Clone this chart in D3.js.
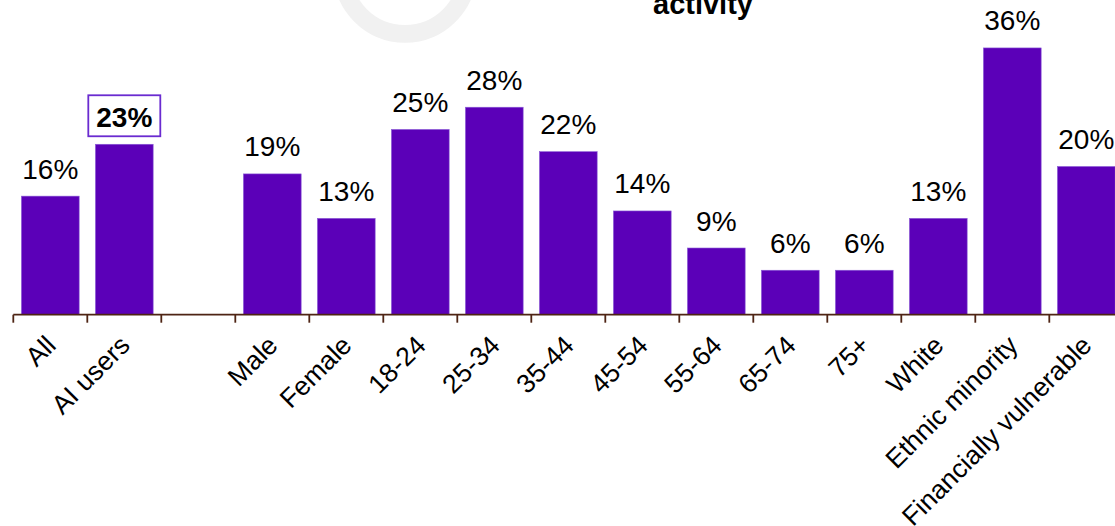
<!DOCTYPE html>
<html>
<head>
<meta charset="utf-8">
<script src="https://cdn.jsdelivr.net/npm/d3@7"></script>
<style>
  html, body { margin: 0; padding: 0; background: #ffffff; }
  svg { display: block; }
  text { font-family: "Liberation Sans", Arial, sans-serif; }
</style>
</head>
<body>
<svg id="chart" width="1115" height="526"></svg>
<script>
// Share of each group taking part in the activity (%)
const categories = ["All", "AI users", "", "Male", "Female", "18-24", "25-34", "35-44",
  "45-54", "55-64", "65-74", "75+", "White", "Ethnic minority", "Financially vulnerable"];
const values = [16, 23, null, 19, 13, 25, 28, 22, 14, 9, 6, 6, 13, 36, 20];
const highlighted = ["AI users"];
const titleText = "activity";

const W = 1115, H = 526;
const svg = d3.select("#chart");

const baseY = 314.7;
const x = d3.scaleBand()
  .domain(categories.map((c, i) => i))
  .range([13.3, 13.3 + 74 * categories.length])
  .paddingInner(0.22)
  .paddingOuter(0.11);
const y = d3.scaleLinear().domain([0, 40]).range([baseY, baseY - 296.4]);

const purple = "#5b00b8";

// decorative ring near the top
svg.append("circle")
  .attr("cx", 405).attr("cy", -29).attr("r", 62.8)
  .attr("fill", "none").attr("stroke", "#f1f1f1").attr("stroke-width", 17.7);

// title (second line)
svg.append("text")
  .attr("x", 703).attr("y", 13.5)
  .attr("text-anchor", "middle")
  .attr("font-size", 29).attr("font-weight", "bold").attr("fill", "#000")
  .text(titleText);

const data = categories.map((c, i) => ({ c, i, v: values[i] }));
const withVal = data.filter(d => d.v != null);

// bars
svg.append("g").selectAll("rect").data(withVal).join("rect")
  .attr("x", d => x(d.i))
  .attr("width", x.bandwidth())
  .attr("y", d => y(d.v))
  .attr("height", d => y(0) - y(d.v))
  .attr("fill", purple)
  .attr("stroke", "#8a5ad6")
  .attr("stroke-width", 0.6);

// value labels
const labels = svg.append("g");
withVal.forEach(d => {
  const cx = x(d.i) + x.bandwidth() / 2;
  const by = y(d.v) - 17.5;
  if (highlighted.includes(d.c)) {
    const step = x.step();
    labels.append("rect")
      .attr("x", cx - step / 2 + 1).attr("y", by - 31.5)
      .attr("width", step - 2).attr("height", 41)
      .attr("fill", "#fff").attr("stroke", "#6a2bd0").attr("stroke-width", 1.8);
    labels.append("text")
      .attr("x", cx).attr("y", by)
      .attr("text-anchor", "middle")
      .attr("font-size", 28).attr("font-weight", "bold").attr("fill", "#000")
      .text(d.v + "%");
  } else {
    labels.append("text")
      .attr("x", cx).attr("y", by)
      .attr("text-anchor", "middle")
      .attr("font-size", 28).attr("fill", "#000")
      .text(d.v + "%");
  }
});

// category axis: baseline, boundary ticks, rotated labels
const axisColor = "#4e2414";
const ax = svg.append("g");
const step = x.step();
const bounds = categories.map((c, i) => x(i) + x.bandwidth() / 2 - step / 2);
bounds.push(bounds[bounds.length - 1] + step);
ax.append("line")
  .attr("x1", bounds[0]).attr("x2", W + 10)
  .attr("y1", baseY).attr("y2", baseY)
  .attr("stroke", axisColor).attr("stroke-width", 1.8);
ax.selectAll("line.tick").data(bounds).join("line")
  .attr("class", "tick")
  .attr("x1", d => d).attr("x2", d => d)
  .attr("y1", baseY).attr("y2", baseY + 8)
  .attr("stroke", axisColor).attr("stroke-width", 1.8);
ax.selectAll("text").data(data.filter(d => d.c !== "")).join("text")
  .attr("transform", d => `translate(${x(d.i) + x.bandwidth() / 2 + 7},347) rotate(-45)`)
  .attr("text-anchor", "end")
  .attr("font-size", 26.5).attr("fill", "#000")
  .text(d => d.c);
</script>
</body>
</html>
